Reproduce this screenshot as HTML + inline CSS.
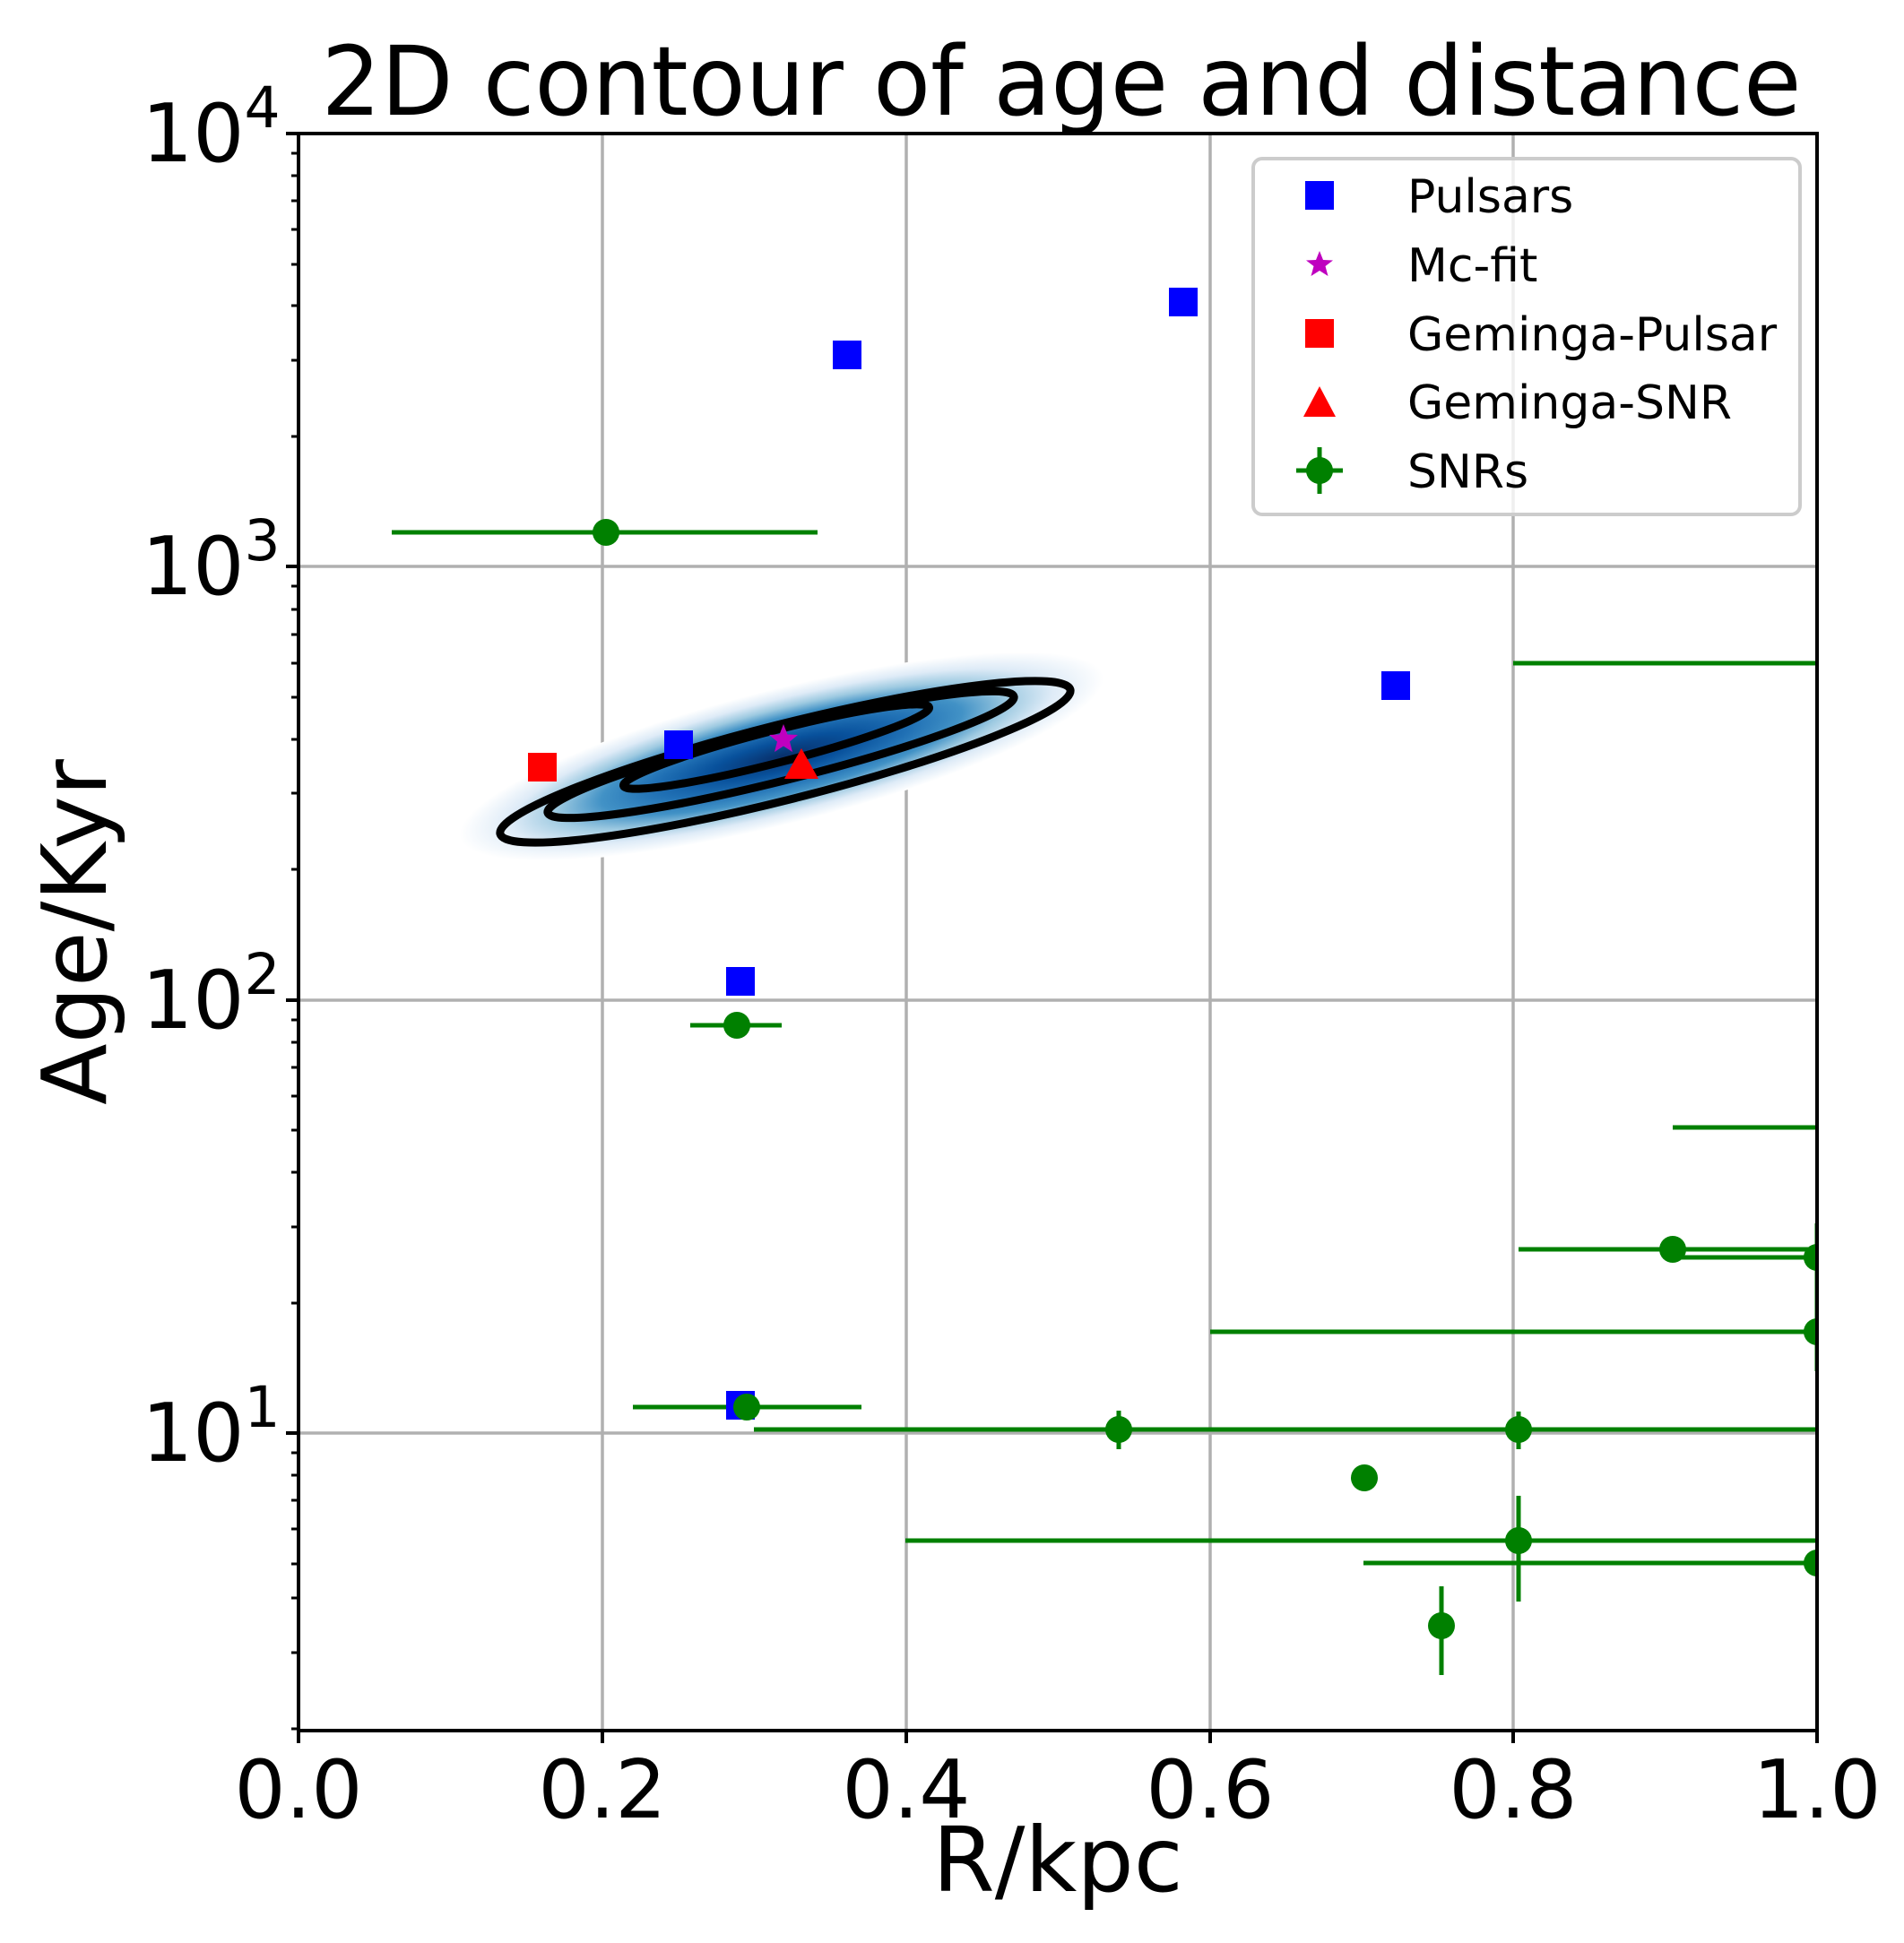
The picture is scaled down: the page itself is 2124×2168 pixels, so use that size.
<!DOCTYPE html>
<html><head><meta charset="utf-8"><style>html,body{margin:0;padding:0;background:#fff}svg{display:block}</style></head>
<body>
<svg width="2124" height="2168" viewBox="0 0 2124 2168" xmlns="http://www.w3.org/2000/svg" font-family="DejaVu Sans, Liberation Sans, sans-serif">
<defs>
<radialGradient id="kde" cx="0.5" cy="0.5" r="0.5">
<stop offset="0" stop-color="#08306b"/>
<stop offset="0.22" stop-color="#08519c"/>
<stop offset="0.4" stop-color="#2171b5"/>
<stop offset="0.56" stop-color="#4292c6"/>
<stop offset="0.7" stop-color="#9ecae1"/>
<stop offset="0.84" stop-color="#deebf7"/>
<stop offset="1" stop-color="#ffffff"/>
</radialGradient>
<clipPath id="ax"><rect x="333" y="149" width="1694" height="1782"/></clipPath>
</defs>
<rect width="2124" height="2168" fill="#fff"/>
<g stroke="#b0b0b0" stroke-width="3.5">
<line x1="672" y1="149" x2="672" y2="1931"/>
<line x1="1011" y1="149" x2="1011" y2="1931"/>
<line x1="1350" y1="149" x2="1350" y2="1931"/>
<line x1="1688" y1="149" x2="1688" y2="1931"/>
<line x1="333" y1="632" x2="2027" y2="632"/>
<line x1="333" y1="1116" x2="2027" y2="1116"/>
<line x1="333" y1="1599" x2="2027" y2="1599"/>
</g>
<g clip-path="url(#ax)">
<g transform="translate(872,844) rotate(-14.2)">
<ellipse cx="0" cy="0" rx="370" ry="75" fill="url(#kde)"/>
</g>
<g fill="none" stroke="#000" stroke-width="9">
<ellipse cx="0" cy="0" rx="328" ry="42" transform="translate(876,850) rotate(-14.2)"/>
<ellipse cx="0" cy="0" rx="268" ry="29" transform="translate(871,842) rotate(-14)"/>
<ellipse cx="0" cy="0" rx="176" ry="18" transform="translate(866,833) rotate(-14.4)"/>
</g>
<g stroke="#008000" stroke-width="5" fill="none">
<line x1="437" y1="594" x2="912" y2="594"/>
<line x1="1688" y1="740" x2="2040" y2="740"/>
<line x1="770" y1="1144" x2="872" y2="1144"/>
<line x1="706" y1="1570" x2="961" y2="1570"/>
<line x1="841" y1="1595" x2="2040" y2="1595"/>
<line x1="1248" y1="1574" x2="1248" y2="1617"/>
<line x1="1694" y1="1575" x2="1694" y2="1617"/>
<line x1="1866" y1="1258" x2="2040" y2="1258"/>
<line x1="1694" y1="1394" x2="2040" y2="1394"/>
<line x1="1866" y1="1403" x2="2040" y2="1403"/>
<line x1="2027" y1="1365" x2="2027" y2="1530"/>
<line x1="1350" y1="1486" x2="2040" y2="1486"/>
<line x1="1010" y1="1719" x2="2040" y2="1719"/>
<line x1="1694" y1="1669" x2="1694" y2="1787"/>
<line x1="1521" y1="1744" x2="2040" y2="1744"/>
<line x1="1608" y1="1770" x2="1608" y2="1869"/>
</g>
<g fill="#0000ff">
<rect x="741" y="815" width="32" height="32"/>
<rect x="929" y="380" width="32" height="32"/>
<rect x="1304" y="321" width="32" height="32"/>
<rect x="1541" y="749" width="32" height="32"/>
<rect x="810" y="1079" width="32" height="32"/>
<rect x="810" y="1552" width="32" height="32"/>
</g>
<g fill="#008000">
<circle cx="676" cy="594" r="15"/>
<circle cx="822" cy="1144" r="15"/>
<circle cx="833" cy="1570" r="15"/>
<circle cx="1248" cy="1595" r="15"/>
<circle cx="1694" cy="1595" r="15"/>
<circle cx="1522" cy="1649" r="15"/>
<circle cx="1694" cy="1719" r="15"/>
<circle cx="2027" cy="1744" r="15"/>
<circle cx="1608" cy="1814" r="15"/>
<circle cx="1866" cy="1394" r="15"/>
<circle cx="2027" cy="1403" r="15"/>
<circle cx="2027" cy="1486" r="15"/>
</g>
<rect x="589" y="840" width="32" height="32" fill="#ff0000"/>
<polygon points="894,835 913,869 875,869" fill="#ff0000"/>
<polygon fill="#bf00bf" points="874,808 878.5,819.5 890,820 881,827.5 884,839 874,832.5 864,839 867,827.5 858,820 869.5,819.5"/>
</g>
<rect x="333" y="149" width="1694" height="1782" fill="none" stroke="#000" stroke-width="4"/>
<g stroke="#000" stroke-width="4">
<line x1="333" y1="1931" x2="333" y2="1945"/>
<line x1="672" y1="1931" x2="672" y2="1945"/>
<line x1="1011" y1="1931" x2="1011" y2="1945"/>
<line x1="1350" y1="1931" x2="1350" y2="1945"/>
<line x1="1688" y1="1931" x2="1688" y2="1945"/>
<line x1="2027" y1="1931" x2="2027" y2="1945"/>
<line x1="319" y1="149" x2="333" y2="149"/>
<line x1="319" y1="632" x2="333" y2="632"/>
<line x1="319" y1="1116" x2="333" y2="1116"/>
<line x1="319" y1="1599" x2="333" y2="1599"/>
</g>
<g stroke="#000" stroke-width="3">
<line x1="325" y1="487" x2="333" y2="487"/><line x1="325" y1="402" x2="333" y2="402"/><line x1="325" y1="341" x2="333" y2="341"/><line x1="325" y1="295" x2="333" y2="295"/><line x1="325" y1="256" x2="333" y2="256"/><line x1="325" y1="224" x2="333" y2="224"/><line x1="325" y1="196" x2="333" y2="196"/><line x1="325" y1="171" x2="333" y2="171"/>
<line x1="325" y1="970" x2="333" y2="970"/><line x1="325" y1="885" x2="333" y2="885"/><line x1="325" y1="825" x2="333" y2="825"/><line x1="325" y1="778" x2="333" y2="778"/><line x1="325" y1="740" x2="333" y2="740"/><line x1="325" y1="708" x2="333" y2="708"/><line x1="325" y1="680" x2="333" y2="680"/><line x1="325" y1="654" x2="333" y2="654"/>
<line x1="325" y1="1454" x2="333" y2="1454"/><line x1="325" y1="1369" x2="333" y2="1369"/><line x1="325" y1="1308" x2="333" y2="1308"/><line x1="325" y1="1261" x2="333" y2="1261"/><line x1="325" y1="1223" x2="333" y2="1223"/><line x1="325" y1="1191" x2="333" y2="1191"/><line x1="325" y1="1163" x2="333" y2="1163"/><line x1="325" y1="1138" x2="333" y2="1138"/>
<line x1="325" y1="1929" x2="333" y2="1929"/><line x1="325" y1="1844" x2="333" y2="1844"/><line x1="325" y1="1783" x2="333" y2="1783"/><line x1="325" y1="1745" x2="333" y2="1745"/><line x1="325" y1="1706" x2="333" y2="1706"/><line x1="325" y1="1674" x2="333" y2="1674"/><line x1="325" y1="1646" x2="333" y2="1646"/><line x1="325" y1="1621" x2="333" y2="1621"/>
</g>
<g font-size="90" fill="#000" text-anchor="middle">
<text x="333" y="2028">0.0</text>
<text x="672" y="2028">0.2</text>
<text x="1011" y="2028">0.4</text>
<text x="1350" y="2028">0.6</text>
<text x="1688" y="2028">0.8</text>
<text x="2027" y="2028">1.0</text>
</g>
<g font-size="90" fill="#000">
<text x="158" y="180">10<tspan font-size="63" dy="-38">4</tspan></text>
<text x="158" y="663">10<tspan font-size="63" dy="-38">3</tspan></text>
<text x="158" y="1147">10<tspan font-size="63" dy="-38">2</tspan></text>
<text x="158" y="1630">10<tspan font-size="63" dy="-38">1</tspan></text>
</g>
<text x="1184" y="128" font-size="107" text-anchor="middle" textLength="1651" lengthAdjust="spacingAndGlyphs">2D contour of age and distance</text>
<text x="1180" y="2110" font-size="100" text-anchor="middle">R/kpc</text>
<text transform="translate(118,1040) rotate(-90)" font-size="100" text-anchor="middle">Age/Kyr</text>
<rect x="1398" y="177" width="610" height="397" rx="10" fill="#fff" fill-opacity="0.8" stroke="#cccccc" stroke-width="4"/>
<rect x="1456" y="202" width="32" height="32" fill="#0000ff"/>
<polygon fill="#bf00bf" points="1472,280 1476,290 1487,290.5 1478.5,297 1481.5,308 1472,302 1462.5,308 1465.5,297 1457,290.5 1468,290"/>
<rect x="1456" y="356" width="32" height="32" fill="#ff0000"/>
<polygon points="1472,431 1490,465 1454,465" fill="#ff0000"/>
<g stroke="#008000" stroke-width="5"><line x1="1446" y1="525" x2="1498" y2="525"/><line x1="1472" y1="499" x2="1472" y2="551"/></g>
<circle cx="1472" cy="525" r="15" fill="#008000"/>
<g font-size="52" fill="#000">
<text x="1570" y="237">Pulsars</text>
<text x="1570" y="314">Mc-fit</text>
<text x="1570" y="391">Geminga-Pulsar</text>
<text x="1570" y="467">Geminga-SNR</text>
<text x="1570" y="544">SNRs</text>
</g>
</svg>
</body></html>
